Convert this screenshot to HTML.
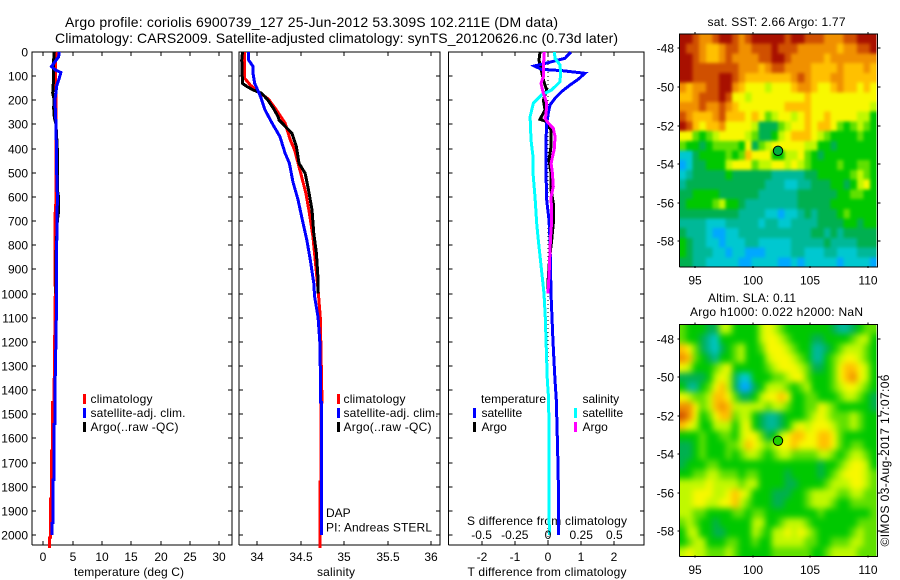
<!DOCTYPE html>
<html lang="en">
<head>
<meta charset="utf-8">
<title>Argo profile 6900739_127</title>
<style>
html,body{margin:0;padding:0;background:#fff;}
svg{display:block;font-family:"Liberation Sans",sans-serif;font-size:12px;fill:#000;}
.ln{fill:none;stroke-width:3;shape-rendering:crispEdges;stroke-linejoin:miter;}
.ax{stroke:#000;stroke-width:1;shape-rendering:crispEdges;fill:none;}
</style>
</head>
<body>
<svg id="chart" xmlns="http://www.w3.org/2000/svg" width="900" height="580" viewBox="0 0 900 580">
<defs>
<filter id="soften-sst" x="-5%" y="-5%" width="110%" height="110%" color-interpolation-filters="sRGB"><feGaussianBlur stdDeviation="1.5"/><feComponentTransfer><feFuncA type="linear" slope="50"/></feComponentTransfer></filter>
<filter id="soften-sla" x="-5%" y="-5%" width="110%" height="110%" color-interpolation-filters="sRGB"><feGaussianBlur stdDeviation="3.2"/><feComponentTransfer><feFuncA type="linear" slope="50"/></feComponentTransfer></filter>
<clipPath id="clip-sst"><rect x="679.5" y="34" width="197" height="233"/></clipPath>
<clipPath id="clip-sla"><rect x="679.5" y="324.3" width="197" height="232.4"/></clipPath>
</defs>
<rect x="0" y="0" width="900" height="580" fill="#fff"/>
<text x="65" y="27" font-size="14" textLength="493">Argo profile: coriolis 6900739_127 25-Jun-2012 53.309S 102.211E (DM data)</text>
<text x="55" y="43" font-size="14" textLength="563">Climatology: CARS2009.  Satellite-adjusted climatology: synTS_20120626.nc (0.73d later)</text>
<text x="129" y="576" text-anchor="middle" textLength="110">temperature (deg C)</text>
<text x="336" y="576" text-anchor="middle" textLength="38">salinity</text>
<text x="547" y="576" text-anchor="middle" textLength="159">T difference from climatology</text>
<text x="547" y="525" text-anchor="middle" textLength="160">S difference from climatology</text>

<g>
<rect x="83" y="394" width="3" height="10" fill="#f00"/><text x="90.5" y="403" textLength="62">climatology</text>
<rect x="83" y="408" width="3" height="10" fill="#00f"/><text x="90.5" y="417" textLength="95">satellite-adj. clim.</text>
<rect x="83" y="422" width="3" height="10" fill="#000"/><text x="90.5" y="431" textLength="88">Argo(..raw -QC)</text>
</g>
<g>
<rect x="337" y="394" width="3" height="10" fill="#f00"/><text x="343.5" y="403" textLength="62">climatology</text>
<rect x="337" y="408" width="3" height="10" fill="#00f"/><text x="343.5" y="417" textLength="95">satellite-adj. clim.</text>
<rect x="337" y="422" width="3" height="10" fill="#000"/><text x="343.5" y="431" textLength="88">Argo(..raw -QC)</text>
</g>
<text x="326" y="517">DAP</text>
<text x="326" y="531.5" textLength="106">PI: Andreas STERL</text>
<g>
<text x="481" y="403" textLength="65">temperature</text>
<rect x="473" y="408" width="3" height="10" fill="#00f"/><text x="481.5" y="417">satellite</text>
<rect x="473" y="422" width="3" height="10" fill="#000"/><text x="481.5" y="431">Argo</text>
<text x="582.5" y="403">salinity</text>
<rect x="574" y="408" width="3" height="10" fill="#0ff"/><text x="582.5" y="417">satellite</text>
<rect x="574" y="422" width="3" height="10" fill="#f0f"/><text x="582.5" y="431">Argo</text>
</g>
<text x="707.5" y="26" textLength="138">sat. SST: 2.66  Argo: 1.77</text>
<text x="708" y="302" textLength="88">Altim. SLA: 0.11</text>
<text x="690" y="316" textLength="173">Argo h1000: 0.022 h2000: NaN</text>
<text transform="translate(889,546.5) rotate(-90)" textLength="172">©IMOS 03-Aug-2017 17:07:06</text>
</svg>
<script>
const depthTicks=[0,100,200,300,400,500,600,700,800,900,1000,1100,1200,1300,1400,1500,1600,1700,1800,1900,2000];
const tempTicks=[0,5,10,15,20,25,30];
const salTicks=[34,34.5,35,35.5,36];
const salTickLabels=["34","34.5","35","35.5","36"];
const tDiffTicks=[-2,-1,0,1,2];
const sDiffTicks=[-0.5,-0.25,0,0.25,0.5];
const sDiffTickLabels=["-0.5","-0.25","0","0.25","0.5"];
const lonTicks=[95,100,105,110];
const latTicks=[-48,-50,-52,-54,-56,-58];

const climTempDepth=[0,60,250,400,600,680,800,1000,1100,1300,1400,1450,1451,1650,1651,1850,1851,2010,2011,2054];
const climTemp=[2.16,2.1,2.15,2.2,2.2,2.0,2.0,2.05,1.98,1.9,1.82,1.82,1.6,1.6,1.42,1.42,1.25,1.25,1.08,1.08];
const satTempDepth=[0,20,40,60,75,85,110,140,200,300,400,500,600,700,800,1000,1200,1400,1540,1541,1770,1771,1950,1951,2000];
const satTemp=[2.73,2.6,2.0,1.4,2.1,3.0,2.7,2.3,1.97,2.16,2.23,2.28,2.4,2.33,2.28,2.28,2.15,2.0,2.0,1.83,1.83,1.66,1.66,1.5,1.5];
const argoTempDepth=[0,50,130,170,200,230,270,300,400,500,570,600,660,700,850,1000];
const argoTemp=[1.87,1.7,1.7,1.6,1.87,1.75,1.87,2.16,2.39,2.39,2.39,2.6,2.6,2.39,2.16,2.16];

const climSalDepth=[0,109,137,164,196,240,295,364,406,461,516,585,668,764,875,985,1100,1450,1451,1780,1781,2054];
const climSal=[33.855,33.855,33.92,34.01,34.13,34.22,34.32,34.38,34.43,34.47,34.51,34.56,34.60,34.64,34.67,34.70,34.725,34.745,34.735,34.735,34.72,34.72];
const satSalDepth=[0,33,60,88,130,178,240,295,350,419,461,537,613,681,778,861,958,1013,1100,1200,1400,1450,1451,2000];
const satSal=[33.90,33.90,33.95,33.95,33.97,34.03,34.09,34.17,34.26,34.32,34.37,34.41,34.47,34.51,34.57,34.61,34.65,34.66,34.70,34.72,34.73,34.73,34.74,34.74];
const argoSalDepth=[0,33,130,143,157,171,196,233,268,281,337,392,461,502,571,654,751,833,944,1000];
const argoSal=[33.83,33.82,33.83,33.88,33.95,34.05,34.115,34.185,34.24,34.25,34.40,34.45,34.48,34.55,34.59,34.63,34.65,34.68,34.70,34.70];

const satTDiffDepth=[0,26,44,58,72,77,88,113,137,164,192,219,254,295,364,502,613,696,778,1000,1200,1358,1441,1641,1841,2000];
const satTDiff=[0.69,0.51,0.01,-0.41,-0.19,0.41,1.11,0.91,0.66,0.41,0.21,0.06,0.01,-0.04,-0.06,-0.06,-0.04,0.03,0.06,0.09,0.15,0.21,0.25,0.29,0.32,0.32];
const argoTDiffDepth=[0,33,116,157,199,240,279,288,323,392,447,502,571,626,710,778,850,950,1000];
const argoTDiff=[-0.24,-0.27,-0.14,-0.04,-0.14,-0.09,-0.24,-0.04,0.09,0.09,0.03,0.09,0.09,0.16,0.16,0.11,0.05,0.0,0.0];
const satSDiffDepth=[0,26,54,88,123,157,178,212,268,364,433,502,599,710,778,1000,1100,1358,1441,2000];
const satSDiff=[0.048,0.053,0.09,0.095,0.09,0.028,-0.048,-0.11,-0.135,-0.128,-0.113,-0.113,-0.098,-0.085,-0.073,-0.03,-0.02,-0.005,0.005,0.01];
const argoSDiffDepth=[0,60,102,130,171,212,261,275,295,316,350,399,461,502,557,599,696,778,900,1000];
const argoSDiff=[-0.028,-0.035,-0.035,-0.053,-0.035,-0.01,-0.015,-0.023,0.003,0.04,0.053,0.048,0.023,0.033,0.04,0.023,0.028,0.018,0.01,0.0];
const zeroLineDepth=[0,2054];
const zeroLineValue=[0,0];

const floatLon=102.211;
const floatLat=-53.309;

const colourLevels=["#0060ff","#00a8ff","#00c8d0","#00b898","#00b050","#00c800","#60e000","#c0f800","#f8f800","#ffc000","#f09000","#d05000","#a81000"];

const sstGrid=[
[12,12,11,10,10,11,12,12,11,10,11,12,12,12,12,12,11,12,12,11,11,11,10,10,10,11,11,12,12,12],
[12,11,11,10,9,9,10,11,11,10,10,11,11,11,12,11,11,11,10,10,10,10,10,10,9,10,10,11,11,12],
[12,12,11,10,9,9,10,11,10,10,10,10,11,11,12,12,11,10,10,10,10,10,9,10,10,10,10,10,10,10],
[12,12,11,11,11,11,11,11,11,10,10,10,9,10,11,11,10,10,10,10,9,9,9,9,10,9,9,9,10,9],
[12,12,11,11,11,11,12,12,11,10,9,9,9,9,9,9,9,10,11,10,9,9,9,10,10,9,9,9,9,9],
[10,9,10,10,11,11,12,12,10,9,8,8,8,7,8,8,8,9,10,10,9,8,8,9,10,9,9,8,9,8],
[9,9,10,11,11,11,12,11,8,8,7,8,8,8,8,8,8,8,8,9,8,8,8,8,8,8,8,8,8,8],
[10,10,10,11,10,10,11,10,9,8,8,8,8,8,8,8,9,9,9,9,8,8,8,8,8,8,8,8,8,7],
[11,10,9,9,9,10,11,9,9,9,8,9,8,6,7,8,8,7,8,9,8,8,9,8,8,8,8,7,7,5],
[12,11,9,8,9,9,10,8,8,8,8,7,4,4,4,6,7,8,8,9,8,9,9,8,6,5,6,7,6,5],
[8,8,6,5,6,7,8,8,8,8,7,6,4,4,5,7,8,9,9,9,8,7,6,5,5,5,5,6,5,5],
[6,5,5,4,5,6,6,6,6,5,8,4,6,7,8,8,8,8,8,7,7,5,5,4,5,5,5,5,5,5],
[2,2,4,5,5,5,5,6,5,6,9,8,8,8,5,5,7,7,8,6,5,4,5,5,5,5,5,5,5,5],
[1,2,4,4,5,5,5,7,8,8,8,6,7,7,8,8,7,8,7,6,5,5,5,5,6,5,5,6,6,5],
[2,3,4,4,4,4,4,5,4,4,4,4,4,4,3,3,3,3,3,4,4,5,5,5,5,5,6,7,6,5],
[3,4,4,4,4,4,4,4,4,4,4,4,4,3,3,3,2,2,3,3,4,4,4,5,5,4,5,7,8,5],
[4,4,5,5,5,5,4,4,4,4,4,4,3,3,3,3,3,3,4,4,4,4,4,4,5,5,6,6,5,5],
[4,5,5,5,5,6,7,5,5,4,3,3,3,3,3,3,3,3,4,4,4,4,4,5,5,5,5,5,5,5],
[4,4,4,4,4,4,4,4,4,3,3,3,3,2,2,1,2,2,3,4,3,4,4,4,5,6,5,5,5,5],
[3,3,3,3,2,2,2,3,3,3,3,3,2,3,3,2,2,3,3,3,3,4,4,4,4,5,5,4,5,5],
[4,3,3,3,2,1,1,2,2,3,3,3,3,3,3,3,3,3,3,3,4,4,3,4,3,4,4,4,4,4],
[5,4,3,3,2,2,1,2,2,2,3,3,2,2,2,2,2,3,3,3,3,3,4,3,3,3,3,4,4,4],
[5,4,3,3,3,2,2,1,2,2,1,1,1,2,2,2,2,3,3,2,2,2,3,3,2,2,2,3,3,3],
[4,4,3,3,2,2,2,2,2,1,1,2,2,2,2,1,1,2,1,2,2,2,2,2,1,2,2,2,2,1]
];

const slaGrid=[
[6,5,5,5,4,4,7,7,5,5,5,5,7,8,7,6,5,5,5,5,5,5,5,4,3,3,4,5,6,6],
[6,5,5,4,3,2,5,5,5,5,5,5,7,8,8,7,6,5,5,5,4,4,5,5,5,5,6,7,7,5],
[9,8,6,4,3,2,4,5,6,7,5,5,6,8,8,8,7,6,5,5,3,3,4,5,6,7,7,7,6,5],
[10,9,6,5,4,3,5,5,6,7,5,5,5,7,8,8,8,7,6,5,3,3,5,6,7,8,8,7,6,5],
[8,7,5,5,5,6,7,8,5,5,5,5,5,6,7,8,8,8,7,6,4,4,5,6,8,9,9,8,7,5],
[4,4,4,4,5,7,8,7,4,2,2,5,5,5,6,6,7,8,8,6,5,5,5,6,8,9,10,8,7,5],
[5,3,3,5,6,8,9,7,4,1,1,4,5,7,7,7,6,5,6,7,5,5,5,6,7,8,8,7,6,5],
[8,7,6,6,7,9,9,8,6,4,4,5,7,8,8,9,8,5,5,6,6,5,5,5,6,7,7,6,5,4],
[10,10,8,6,7,9,10,9,7,7,7,7,7,6,7,7,6,5,5,6,6,8,7,6,5,5,5,5,5,4],
[11,10,8,5,6,8,9,9,6,7,7,5,4,3,3,4,5,5,5,6,7,8,7,6,6,6,7,6,5,5],
[9,8,7,5,5,7,7,7,5,7,8,5,4,3,3,4,5,7,8,7,8,8,8,7,6,6,7,6,5,5],
[5,5,5,6,5,5,6,6,5,7,8,8,6,4,5,7,8,9,9,8,8,9,9,8,6,5,5,5,5,5],
[4,4,5,6,5,5,5,6,6,7,9,8,7,6,7,8,8,9,8,8,8,9,9,8,6,5,6,6,5,5],
[4,4,5,6,5,5,5,6,5,6,7,7,6,5,6,7,7,6,6,6,6,7,7,6,5,6,7,7,6,5],
[4,5,5,5,6,6,5,5,5,5,5,5,5,5,5,5,5,5,5,5,5,4,5,5,6,7,8,8,7,5],
[5,5,6,6,7,7,6,6,6,5,6,6,5,5,5,5,4,5,5,5,5,4,5,6,7,8,8,8,7,6],
[7,7,7,7,8,7,7,7,7,6,7,7,5,5,5,5,4,4,5,5,5,5,6,7,7,7,8,8,7,6],
[7,7,8,8,8,7,7,8,9,8,7,5,5,5,4,4,4,5,5,6,7,7,7,7,6,6,7,7,6,6],
[7,7,8,8,7,7,8,8,9,7,6,5,5,5,4,4,5,5,5,6,7,7,7,6,5,5,6,6,6,6],
[7,7,6,6,5,5,5,5,6,6,5,6,6,5,5,5,5,5,5,5,5,6,5,5,5,5,5,5,5,6],
[6,7,6,5,5,4,5,5,5,5,5,7,7,5,5,6,7,7,7,6,5,5,5,5,5,5,5,6,6,6],
[5,7,7,5,5,4,4,5,5,5,5,7,6,5,7,7,8,7,8,7,6,5,5,5,5,5,6,7,6,6],
[5,6,7,7,5,5,5,6,6,5,5,6,5,5,7,7,7,7,7,6,6,5,5,6,6,6,7,7,6,6],
[7,8,7,7,6,6,6,7,6,5,5,5,5,5,6,6,6,6,6,6,5,5,6,7,7,7,7,6,6,6]
];

const svg=document.getElementById('chart');
const NS='http://www.w3.org/2000/svg';
const MAP_LON_MIN=93.65, MAP_LON_MAX=110.77, MAP_LAT_MAX=-47.26, MAP_LAT_MIN=-59.33;

function linear(d0,d1,r0,r1){return function(v){return r0+(v-d0)*(r1-r0)/(d1-d0);};}
function yDepth(d){return 52+d*0.2415;}
function make(tag,attrs,parent){
  const el=document.createElementNS(NS,tag);
  for(const k in attrs){el.setAttribute(k,attrs[k]);}
  (parent||svg).appendChild(el);
  return el;
}
function tick(parent,x1,y1,x2,y2){
  const t=make('line',{x1:x1,y1:y1,x2:x2,y2:y2,'class':'ax'},parent);
  
  
}
function label(parent,x,y,anchor,str){
  const t=make('text',{x:x,y:y,'text-anchor':anchor},parent);
  t.textContent=str;
  
  
}
function series(parent,name,depths,values,xScale,colour,dash){
  const pts=depths.map(function(d,i){return xScale(values[i]).toFixed(1)+','+yDepth(d).toFixed(1);}).join(' ');
  const p=make('polyline',{points:pts,'class':'ln',stroke:colour},parent);
  if(dash){p.setAttribute('stroke-dasharray',dash);p.style.strokeWidth='1';}
  
  
}
function profilePanel(name,left,right,xScale,xTicks,xLabels,withDepthLabels){
  const g=make('g',{});
  
  
  const top=52,bottom=545;
  const frame=make('path',{d:'M'+left+' '+bottom+'V'+top+'H'+right+'V'+bottom+'H'+left,'class':'ax'},g);
  
  
  depthTicks.forEach(function(d){
    const y=Math.round(yDepth(d));
    tick(g,left,y,left+4,y);
    tick(g,right-4,y,right,y);
    if(withDepthLabels){label(g,28,y+4.5,'end',String(d));}
  });
  xTicks.forEach(function(v,i){
    const x=Math.round(xScale(v));
    tick(g,x,top,x,top+4);
    tick(g,x,bottom-4,x,bottom);
    label(g,x,561,'middle',xLabels[i]);
  });
  return g;
}
function mapPanel(name,grid,top,bottom,dotFill,clipId,filterId){
  const g=make('g',{});
  
  
  const clipper=make('g',{'clip-path':'url(#'+clipId+')'},g);
  
  
  const image=make('g',{filter:'url(#'+filterId+')'},clipper);
  
  
  const left=679.5,right=876.5;
  const xLon=linear(MAP_LON_MIN,MAP_LON_MAX,left,right);
  const yLat=linear(MAP_LAT_MAX,MAP_LAT_MIN,top,bottom);
  const rows=grid.length,cols=grid[0].length;
  const lonStep=(MAP_LON_MAX-MAP_LON_MIN)/cols,latStep=(MAP_LAT_MAX-MAP_LAT_MIN)/rows;
  grid.forEach(function(row,r){
    row.forEach(function(v,c){
      const x0=xLon(MAP_LON_MIN+c*lonStep),x1=xLon(MAP_LON_MIN+(c+1)*lonStep);
      const y0=yLat(MAP_LAT_MAX-r*latStep),y1=yLat(MAP_LAT_MAX-(r+1)*latStep);
      const rect=make('rect',{x:x0.toFixed(2),y:y0.toFixed(2),width:(x1-x0+0.5).toFixed(2),height:(y1-y0+0.5).toFixed(2),fill:colourLevels[Math.max(0,Math.min(12,Math.round(v)))],'shape-rendering':'crispEdges'},image);
      
      
    });
  });
  const frame=make('path',{d:'M'+left+' '+bottom+'V'+top+'H'+(right+1)+'V'+bottom+'H'+left,'class':'ax'},g);
  
  
  lonTicks.forEach(function(v){
    const x=Math.round(xLon(v));
    tick(g,x,top-2,x,top);
    tick(g,x,bottom-1,x,bottom+1);
    label(g,x,bottom+17.5,'middle',String(v));
  });
  latTicks.forEach(function(v){
    const y=Math.round(yLat(v));
    tick(g,left-2,y,left,y);
    tick(g,right+1,y,right+4,y);
    label(g,674,y+4.5,'end',String(v));
  });
  const dot=make('circle',{cx:xLon(floatLon).toFixed(1),cy:yLat(floatLat).toFixed(1),r:4.7,fill:dotFill,stroke:'#000','stroke-width':1},g);
  
  
}

const xTemp=linear(0,30,43.3,219.4);
const xSal=linear(34,36,257.3,431);
const xTDiff=linear(0,2,548,614.4);
const xSDiff=linear(0,0.5,548,614.4);

const p1=profilePanel('temperature-panel',32,232,xTemp,tempTicks,tempTicks.map(String),true);
series(p1,'temperature-climatology-line',climTempDepth,climTemp,xTemp,'#f00');
series(p1,'temperature-argo-line',argoTempDepth,argoTemp,xTemp,'#000');
series(p1,'temperature-satellite-line',satTempDepth,satTemp,xTemp,'#00f');

const p2=profilePanel('salinity-panel',239,440,xSal,salTicks,salTickLabels,false);
series(p2,'salinity-climatology-line',climSalDepth,climSal,xSal,'#f00');
series(p2,'salinity-argo-line',argoSalDepth,argoSal,xSal,'#000');
series(p2,'salinity-satellite-line',satSalDepth,satSal,xSal,'#00f');

const p3=profilePanel('difference-panel',448.5,644,xTDiff,tDiffTicks,tDiffTicks.map(String),false);
series(p3,'zero-difference-line',zeroLineDepth,zeroLineValue,xTDiff,'#000','1 3');
series(p3,'t-difference-argo-line',argoTDiffDepth,argoTDiff,xTDiff,'#000');
series(p3,'t-difference-satellite-line',satTDiffDepth,satTDiff,xTDiff,'#00f');
series(p3,'s-difference-satellite-line',satSDiffDepth,satSDiff,xSDiff,'#0ff');
series(p3,'s-difference-argo-line',argoSDiffDepth,argoSDiff,xSDiff,'#f0f');
sDiffTicks.forEach(function(v,i){
  label(p3,xSDiff(v),539,'middle',sDiffTickLabels[i]);
});

mapPanel('sst-map',sstGrid,34,267,'#00b040','clip-sst','soften-sst');
mapPanel('sla-map',slaGrid,324.3,556.7,'#20d000','clip-sla','soften-sla');
</script>
</body>
</html>
